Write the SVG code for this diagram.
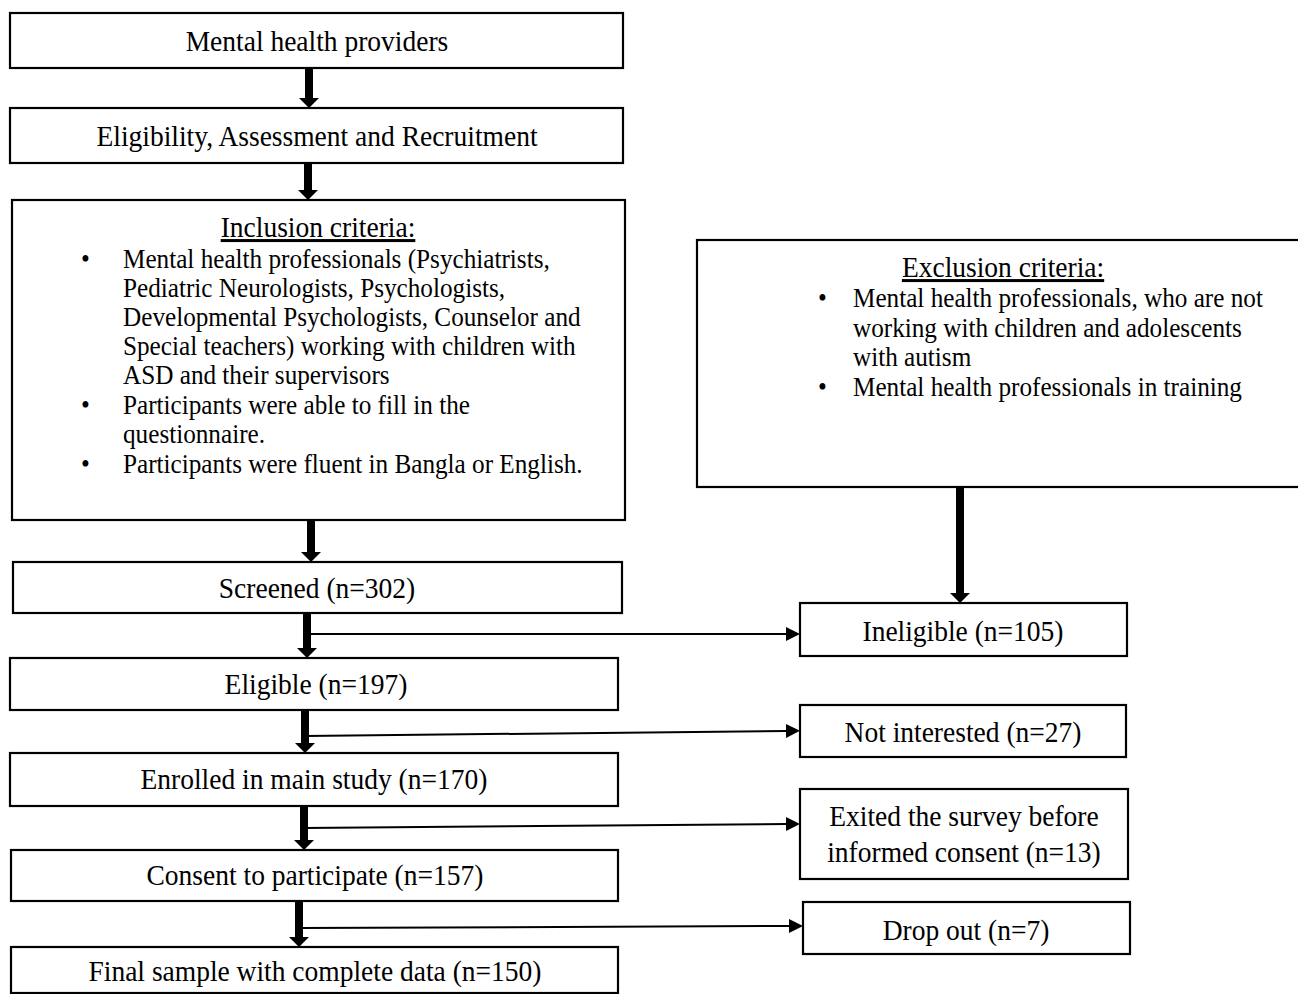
<svg xmlns="http://www.w3.org/2000/svg" width="1298" height="994" viewBox="0 0 1298 994">
<style>
.box{fill:#fff;stroke:#000;stroke-width:2.2}
text{font-family:"Liberation Serif","Times New Roman",serif;font-size:30px;fill:#000}
.s{font-size:27.5px}
.c{text-anchor:middle}
.u{text-decoration:underline}
.thick{stroke:#000;stroke-width:8;fill:none}
.thin{stroke:#000;stroke-width:2;fill:none}
</style>
<defs>
<marker id="hd" markerUnits="userSpaceOnUse" viewBox="0 0 10 20" markerWidth="10" markerHeight="20" refX="0" refY="10" orient="auto">
<path d="M0,0 L10,10 L0,20 z" fill="#000"/>
</marker>
<marker id="hs" markerUnits="userSpaceOnUse" viewBox="0 0 14 14" markerWidth="14" markerHeight="14" refX="0" refY="7" orient="auto">
<path d="M0,0 L14,7 L0,14 z" fill="#000"/>
</marker>
</defs>
<rect width="1298" height="994" fill="#fff"/>
<g id="connectors">
<line class="thick" x1="309" y1="68" x2="309" y2="98" marker-end="url(#hd)"/>
<line class="thick" x1="308" y1="163" x2="308" y2="190" marker-end="url(#hd)"/>
<line class="thick" x1="311" y1="520" x2="311" y2="552" marker-end="url(#hd)"/>
<line class="thick" x1="307" y1="613" x2="307" y2="648" marker-end="url(#hd)"/>
<line class="thick" x1="305" y1="710" x2="305" y2="743" marker-end="url(#hd)"/>
<line class="thick" x1="304" y1="806" x2="304" y2="840" marker-end="url(#hd)"/>
<line class="thick" x1="299" y1="901" x2="299" y2="937" marker-end="url(#hd)"/>
<line class="thick" x1="960" y1="487" x2="960" y2="593" marker-end="url(#hd)"/>
<line class="thin" x1="307" y1="634" x2="786" y2="634" marker-end="url(#hs)"/>
<line class="thin" x1="305" y1="736" x2="786" y2="731" marker-end="url(#hs)"/>
<line class="thin" x1="304" y1="828" x2="786" y2="824" marker-end="url(#hs)"/>
<line class="thin" x1="299" y1="928" x2="789" y2="926" marker-end="url(#hs)"/>
</g>
<g id="providers">
<rect class="box" x="10" y="13" width="613" height="55"/>
<text class="c" transform="scale(0.9167 1)" x="345.8" y="51">Mental health providers</text>
</g>
<g id="eligibility">
<rect class="box" x="10" y="108" width="613" height="55"/>
<text class="c" transform="scale(0.9167 1)" x="345.8" y="146">Eligibility, Assessment and Recruitment</text>
</g>
<g id="inclusion">
<rect class="box" x="12" y="200" width="613" height="320"/>
<g transform="scale(0.9167 1)">
<text class="c u" x="346.9" y="237">Inclusion criteria:</text>
<text class="s" x="88.4" y="268">•</text>
<text class="s" x="134.2" y="268">Mental health professionals (Psychiatrists,</text>
<text class="s" x="134.2" y="297">Pediatric Neurologists, Psychologists,</text>
<text class="s" x="134.2" y="326">Developmental Psychologists, Counselor and</text>
<text class="s" x="134.2" y="355">Special teachers) working with children with</text>
<text class="s" x="134.2" y="384">ASD and their supervisors</text>
<text class="s" x="88.4" y="414">•</text>
<text class="s" x="134.2" y="414">Participants were able to fill in the</text>
<text class="s" x="134.2" y="443">questionnaire.</text>
<text class="s" x="88.4" y="473">•</text>
<text class="s" x="134.2" y="473">Participants were fluent in Bangla or English.</text>
</g>
</g>
<g id="exclusion">
<rect class="box" x="697" y="240" width="605" height="247"/>
<g transform="scale(0.9167 1)">
<text class="c u" x="1094.2" y="277">Exclusion criteria:</text>
<text class="s" x="892.3" y="307">•</text>
<text class="s" x="930.5" y="307">Mental health professionals, who are not</text>
<text class="s" x="930.5" y="337">working with children and adolescents</text>
<text class="s" x="930.5" y="366">with autism</text>
<text class="s" x="892.3" y="396">•</text>
<text class="s" x="930.5" y="396">Mental health professionals in training</text>
</g>
</g>
<g id="screened">
<rect class="box" x="13" y="562" width="609" height="51"/>
<text class="c" transform="scale(0.9167 1)" x="345.8" y="598">Screened (n=302)</text>
</g>
<g id="ineligible">
<rect class="box" x="800" y="603" width="327" height="53"/>
<text class="c" transform="scale(0.9167 1)" x="1050.5" y="641">Ineligible (n=105)</text>
</g>
<g id="eligible">
<rect class="box" x="10" y="658" width="608" height="52"/>
<text class="c" transform="scale(0.9167 1)" x="344.7" y="694">Eligible (n=197)</text>
</g>
<g id="notinterested">
<rect class="box" x="800" y="705" width="326" height="52"/>
<text class="c" transform="scale(0.9167 1)" x="1050.5" y="742">Not interested (n=27)</text>
</g>
<g id="enrolled">
<rect class="box" x="10" y="753" width="608" height="53"/>
<text class="c" transform="scale(0.9167 1)" x="342.5" y="789">Enrolled in main study (n=170)</text>
</g>
<g id="exited">
<rect class="box" x="800" y="789" width="328" height="90"/>
<text class="c" transform="scale(0.9167 1)" x="1051.6" y="826">Exited the survey before</text>
<text class="c" transform="scale(0.9167 1)" x="1051.6" y="862">informed consent (n=13)</text>
</g>
<g id="consent">
<rect class="box" x="11" y="850" width="607" height="51"/>
<text class="c" transform="scale(0.9167 1)" x="343.6" y="885">Consent to participate (n=157)</text>
</g>
<g id="dropout">
<rect class="box" x="803" y="902" width="327" height="52"/>
<text class="c" transform="scale(0.9167 1)" x="1053.8" y="940">Drop out (n=7)</text>
</g>
<g id="final">
<rect class="box" x="11" y="947" width="607" height="46"/>
<text class="c" transform="scale(0.9167 1)" x="343.6" y="981">Final sample with complete data (n=150)</text>
</g>
</svg>
